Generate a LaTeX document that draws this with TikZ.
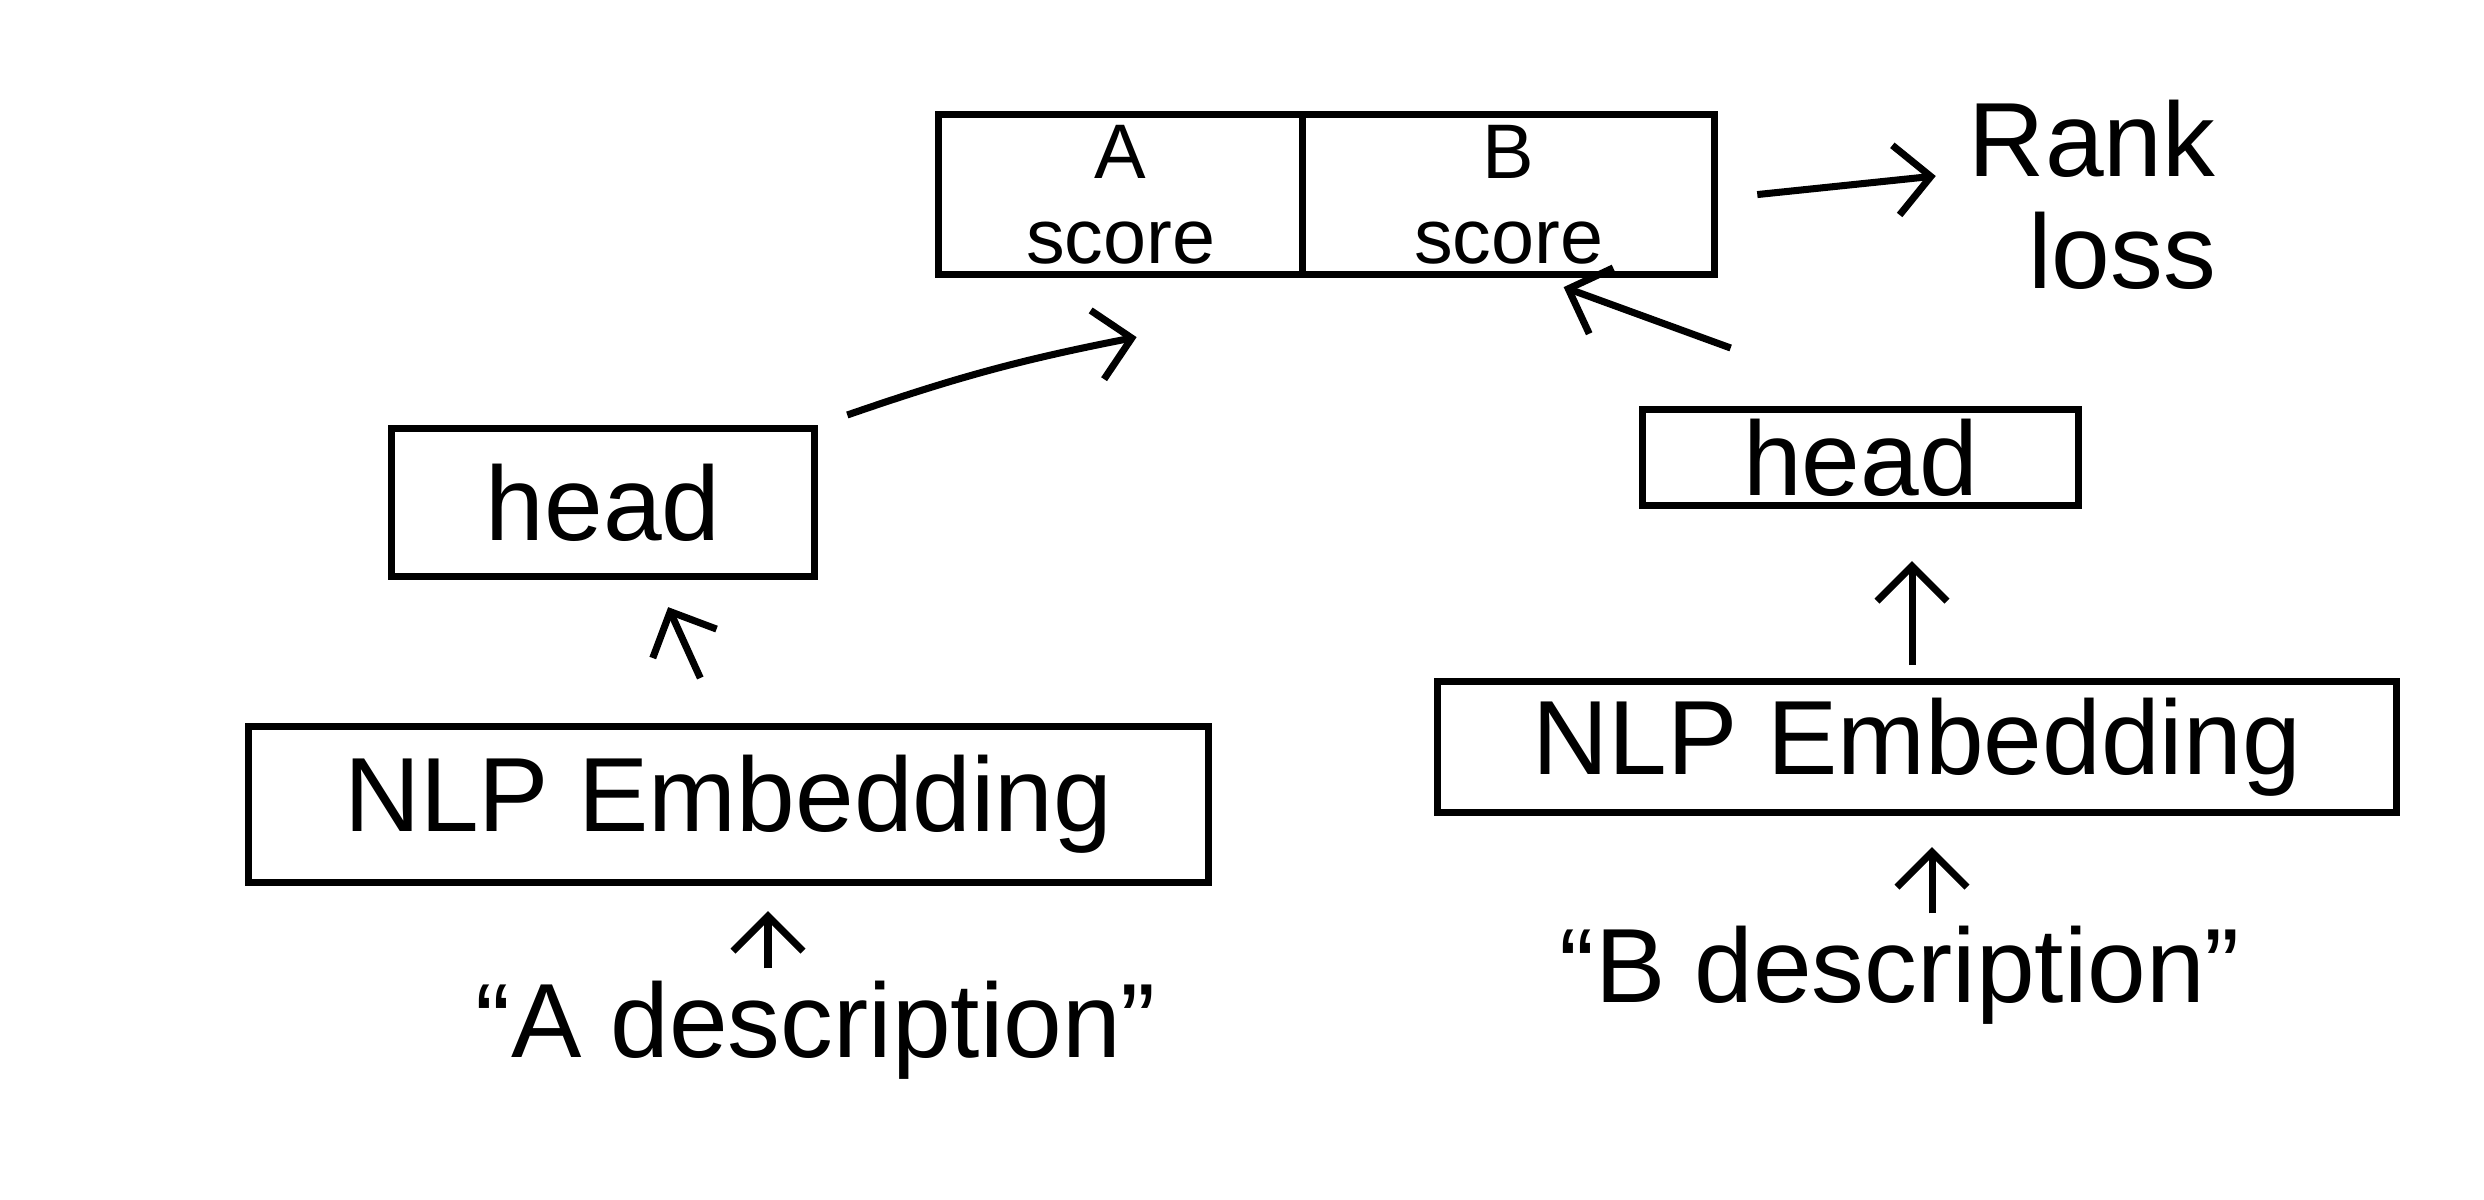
\documentclass[tikz,border=0pt]{standalone}
\usepackage{fontspec}
\setmainfont{Liberation Sans}
\usetikzlibrary{calc,arrows.meta}
\begin{document}
\begin{tikzpicture}[x=0.01cm,y=-0.01cm,
  box/.style={draw,line width=2pt,anchor=north west,inner sep=0pt,align=center},
  arr/.style={line width=2pt,-{Straight Barb[length=0.35cm,width=0.7cm,line width=2pt]}},
  big/.style={font=\fontsize{30}{32}\selectfont},
  mid/.style={font=\fontsize{22}{24}\selectfont}]
\useasboundingbox[fill=white] (0,0) rectangle (2484,1200);
% top box
\node[box,mid,minimum width=3.64cm,minimum height=1.6cm] (Ascore) at (935,111) {A\\score};
\node[box,mid,minimum width=4.12cm,minimum height=1.6cm] (Bscore) at (1299,111) {B\\score};
\node[big,align=center] (rank) at (2092,195) {Rank\\\hspace*{0.6cm}loss};
% heads
\node[box,big,minimum width=4.23cm,minimum height=1.48cm] (lhead) at (388,425) {head};
\node[box,big,minimum width=4.36cm,minimum height=0.96cm] (rhead) at (1639,406) {head};
% embeddings
\node[box,big,minimum width=9.59cm,minimum height=1.56cm] (lnlp) at (245,723) {NLP Embedding};
\node[box,big,minimum width=9.58cm,minimum height=1.31cm] (rnlp) at (1434,678) {NLP Embedding};
% descriptions
\node[big] (adesc) at (816,1030) {“A description”};
\node[big] (bdesc) at (1900,975) {“B description”};
% connectors
\draw[arr] (adesc.north -| 768,0) -- ($(lnlp.south -| 768,0)+(0,25)$);
\draw[arr] ($(lnlp.north)+(-28,-45)$) -- ($(lhead.south)+(65,27)$);
\draw[arr] ($(lhead.north east)+(29,-10)$) to[bend left=4] ($(Ascore.south)+(16,59)$);
\draw[arr] ($(rnlp.north -| 1912,0)+(0,-13)$) -- ($(rhead.south -| 1912,0)+(0,52)$);
\draw[arr] ($(rhead.north)+(-130,-58)$) -- ($(Bscore.south)+(55,9)$);
\draw[arr] ($(bdesc.north -| 1932,0)+(0,0)$) -- ($(rnlp.south -| 1932,0)+(0,31)$);
\draw[arr] ($(Bscore.east)+(39,0)$) -- ($(rank.west)+(-20,-19)$);
\end{tikzpicture}
\end{document}
